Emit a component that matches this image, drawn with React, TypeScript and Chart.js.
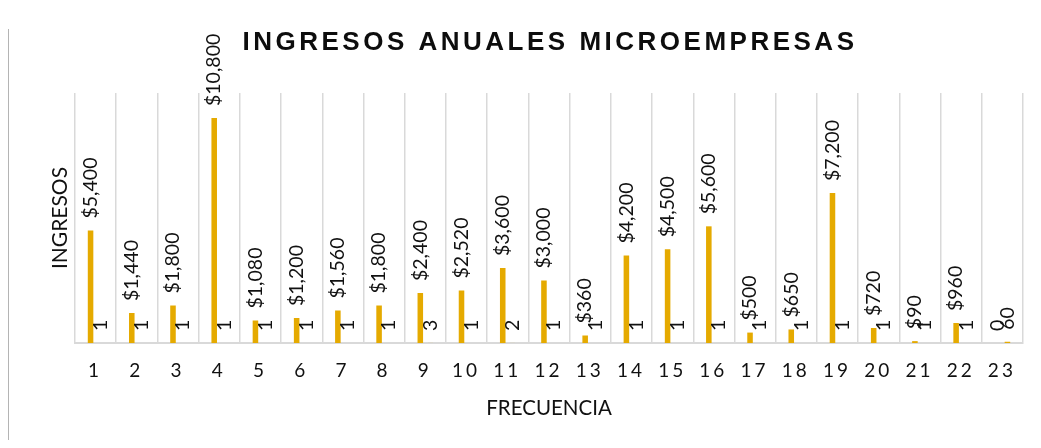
import React, { useEffect, useRef } from "react";
import { Chart, registerables } from "chart.js";

Chart.register(...registerables);

const categories = ["1","2","3","4","5","6","7","8","9","10","11","12","13","14","15","16","17","18","19","20","21","22","23"];
const ingresos = [5400,1440,1800,10800,1080,1200,1560,1800,2400,2520,3600,3000,360,4200,4500,5600,500,650,7200,720,90,960,0];
const ingresosLabels = ["$5,400","$1,440","$1,800","$10,800","$1,080","$1,200","$1,560","$1,800","$2,400","$2,520","$3,600","$3,000","$360","$4,200","$4,500","$5,600","$500","$650","$7,200","$720","$90","$960","0"];
const frecuencia = [1,1,1,1,1,1,1,1,3,1,2,1,1,1,1,1,1,1,1,1,1,1,60];
const frecuenciaLabels = ["1","1","1","1","1","1","1","1","3","1","2","1","1","1","1","1","1","1","1","1","1","1","60"];
const chartTitle = "INGRESOS ANUALES MICROEMPRESAS";
const yTitle = "INGRESOS";
const xTitle = "FRECUENCIA";

const GOLD = "#E5AA00";

const textPlugin = {
  id: "customTexts",
  afterDatasetsDraw(chart: any) {
    const ctx = chart.ctx;
    const area = chart.chartArea;
    ctx.save();
    ctx.fillStyle = "#111";
    ctx.font = "19.5px Lato";
    ctx.textBaseline = "middle";
    ctx.textAlign = "left";
    chart.data.datasets.forEach((ds: any, di: number) => {
      const meta = chart.getDatasetMeta(di);
      const labels = di === 0 ? ingresosLabels : frecuenciaLabels;
      meta.data.forEach((bar: any, i: number) => {
        ctx.save();
        ctx.translate(bar.x, bar.y - 12);
        ctx.rotate(-Math.PI / 2);
        ctx.fillText(labels[i], 0, 0);
        ctx.restore();
      });
    });
    const cx = (area.left + area.right) / 2;
    const cy = (area.top + area.bottom) / 2;
    // category tick labels with character spacing
    const xs = chart.scales.x;
    ctx.save();
    ctx.font = "19px Lato";
    (ctx as any).letterSpacing = "3px";
    ctx.textAlign = "center";
    ctx.textBaseline = "middle";
    categories.forEach((c, i) => {
      ctx.fillText(c, xs.getPixelForValue(i) - 0.5, 363);
    });
    ctx.restore();
    // title
    ctx.save();
    ctx.font = "bold 26px 'Liberation Sans'";
    (ctx as any).letterSpacing = "3.5px";
    ctx.textAlign = "center";
    ctx.textBaseline = "middle";
    ctx.fillStyle = "#0d0d0d";
    ctx.fillText(chartTitle, cx + 1, 35);
    ctx.restore();
    // x title
    ctx.save();
    ctx.font = "20.5px Lato";
    ctx.textAlign = "center";
    ctx.textBaseline = "middle";
    ctx.fillText(xTitle, cx, 400);
    ctx.restore();
    // y title
    ctx.save();
    ctx.font = "21px Lato";
    ctx.textAlign = "center";
    ctx.textBaseline = "middle";
    ctx.translate(52, cy);
    ctx.rotate(-Math.PI / 2);
    ctx.fillText(yTitle, 0, 0);
    ctx.restore();
    ctx.restore();
  },
};

export default function App() {
  const ref = useRef<HTMLCanvasElement>(null);
  useEffect(() => {
    if (!ref.current) return;
    const chart = new Chart(ref.current, {
      type: "bar",
      data: {
        labels: categories,
        datasets: [
          {
            label: "Ingresos",
            data: ingresos,
            backgroundColor: GOLD,
            categoryPercentage: 0.49,
            barPercentage: 0.55,
          },
          {
            label: "Frecuencia",
            data: frecuencia,
            backgroundColor: GOLD,
            categoryPercentage: 0.49,
            barPercentage: 0.55,
          },
        ],
      },
      options: {
        animation: false,
        responsive: true,
        maintainAspectRatio: false,
        layout: { padding: { top: 85, right: 10, left: 0, bottom: 0 } },
        plugins: {
          legend: { display: false },
          title: { display: false },
          tooltip: { enabled: false },
        },
        scales: {
          x: {
            grid: { display: true, offset: true, color: "#d9d9d9", lineWidth: 1.5, drawTicks: false },
            border: { display: true, color: "#d9d9d9", width: 2 },
            ticks: { display: false },
            afterFit: (s: any) => { s.height = 97; },
          },
          y: {
            min: 0,
            max: 12000,
            grid: { display: false },
            border: { display: false },
            ticks: { display: false },
            afterFit: (s: any) => { s.width = 67; },
          },
        },
      },
      plugins: [textPlugin],
    });
    return () => chart.destroy();
  }, []);
  return (
    <div style={{ position: "relative", width: "100%", height: 432 }}>
      <div style={{ position: "absolute", left: -1, top: 0, width: 1, height: 22, background: "#c8c8c8" }} />
      <div style={{ position: "absolute", left: -1, top: 21, width: 2, height: 440, background: "#b4b4b4" }} />
      <canvas ref={ref} />
    </div>
  );
}
